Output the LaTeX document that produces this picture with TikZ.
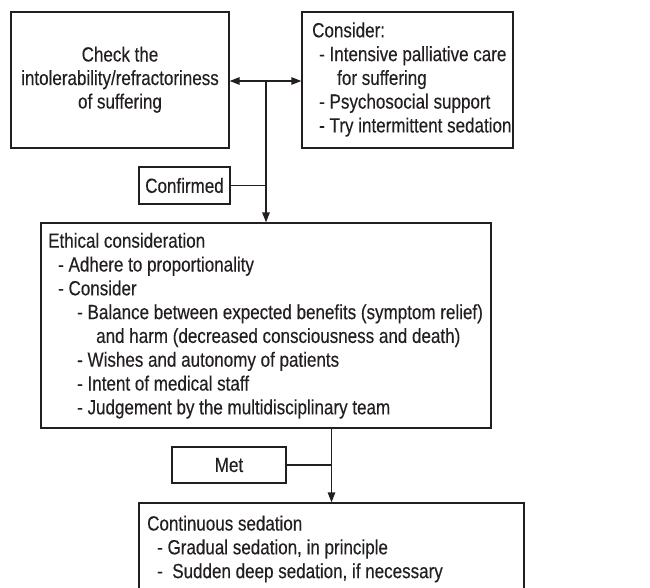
\documentclass[tikz,border=0pt]{standalone}
\usepackage{fontspec}
\setmainfont{Liberation Sans}[FakeStretch=0.83,FakeBold=0.3]
\usetikzlibrary{arrows.meta}
\definecolor{ink}{HTML}{231F20}
\begin{document}
\begin{tikzpicture}[x=1pt,y=-1pt,
  font=\fontsize{20.5pt}{23.8pt}\selectfont,
  box/.style={draw=ink, line width=1.3pt, inner sep=0pt, text=ink},
  lbl/.style={anchor=base west, inner sep=0pt, text=ink},
  clbl/.style={anchor=base, inner sep=0pt, text=ink},
  conn/.style={draw=ink, line width=1.3pt},
  arr/.style={-{Triangle[length=10pt,width=7.5pt]}},
  darr/.style={{Triangle[length=10pt,width=7.5pt]}-{Triangle[length=10pt,width=7.5pt]}}]
\useasboundingbox (0,0) rectangle (650,587);
\clip (0,0) rectangle (650,587);

% boxes
\node[box, minimum width=218, minimum height=136] (chk) at (120,80) {};
\node[box, minimum width=211, minimum height=136] (cons) at (407.5,80) {};
\node[box, minimum width=91, minimum height=37] (conf) at (184.5,185.5) {Confirmed};
\node[box, minimum width=450, minimum height=205] (eth) at (266,325.5) {};
\node[box, minimum width=114, minimum height=36] (met) at (229,465) {Met};
\node[box, minimum width=385, minimum height=100] (cont) at (331.5,553) {};

% texts of the left box
\node[clbl] (c1) at (120,61.5) {Check the};
\node[clbl] (c2) at (120,85) {intolerability/refractoriness};
\node[clbl] (c3) at (120,108.5) {of suffering};

% texts of the right box
\node[lbl] (r1) at (312,37.3) {Consider:};
\node[lbl] (r2) at (319,61.1) {- Intensive palliative care};
\node[lbl] (r3) at (337,84.9) {for suffering};
\node[lbl] (r4) at (319,108.6) {- Psychosocial support};
\node[lbl] (r5) at (319,132.4) {- Try intermittent sedation};

% texts of the ethical box
\node[lbl] (e1) at (48,247.7) {Ethical consideration};
\node[lbl] (e2) at (58,271.5) {- Adhere to proportionality};
\node[lbl] (e3) at (58,295.3) {- Consider};
\node[lbl] (e4) at (77,319.1) {- Balance between expected benefits (symptom relief)};
\node[lbl] (e5) at (96,342.9) {and harm (decreased consciousness and death)};
\node[lbl] (e6) at (77,366.7) {- Wishes and autonomy of patients};
\node[lbl] (e7) at (77,390.5) {- Intent of medical staff};
\node[lbl] (e8) at (77,414.3) {- Judgement by the multidisciplinary team};

% texts of the continuous box
\node[lbl] (s1) at (147,530.5) {Continuous sedation};
\node[lbl] (s2) at (157,554.3) {- Gradual sedation, in principle};
\node[lbl] (s3) at (157,578.1) {-\ \ Sudden deep sedation, if necessary};

% connectors
\coordinate (j) at (266,81);
\draw[conn, darr] (chk.east |- j) -- (cons.west |- j);
\draw[conn, arr] (j) -- (eth.north);
\draw[conn] (conf.east) -- (conf.east -| j);
\draw[conn, arr] (eth.south -| cont.north) -- (cont.north);
\draw[conn] (met.east) -- (met.east -| cont.north);
\end{tikzpicture}
\end{document}
